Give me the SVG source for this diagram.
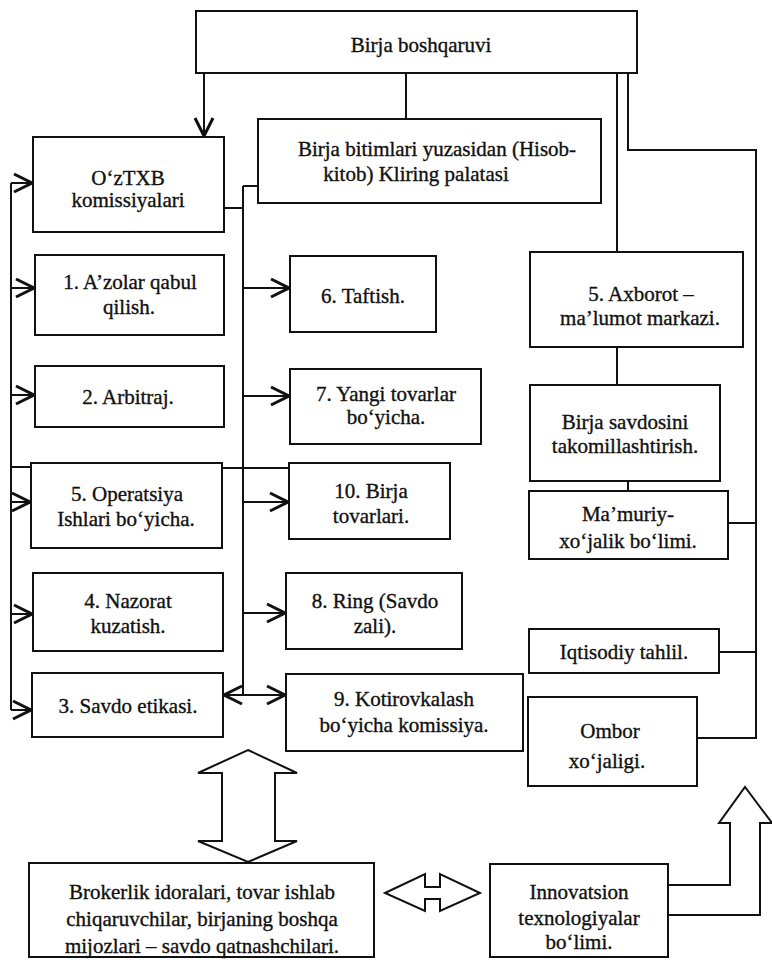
<svg xmlns="http://www.w3.org/2000/svg" width="772" height="968" viewBox="0 0 772 968">
<defs>
<style>
.box{fill:#fff;stroke:#111;stroke-width:2}
.ln{fill:none;stroke:#111;stroke-width:2}
.ar{fill:none;stroke:#111;stroke-width:2;marker-end:url(#ah)}
.big{fill:#fff;stroke:#111;stroke-width:2;stroke-linejoin:miter}
text{font-family:"Liberation Serif","Times New Roman",serif;font-size:21px;fill:#111;stroke:#111;stroke-width:0.35;text-anchor:middle}
</style>
<marker id="ah" markerUnits="userSpaceOnUse" viewBox="-21 -11 23 22" markerWidth="23" markerHeight="22" refX="0" refY="0" orient="auto">
<path d="M-18,-9 L0,0 L-18,9" fill="none" stroke="#111" stroke-width="3"/>
</marker>
</defs>
<rect width="772" height="968" fill="#fff"/>

<g id="connectors">
<line class="ar" x1="204" y1="73" x2="204" y2="136"/>
<line class="ln" x1="406" y1="73" x2="406" y2="119"/>
<line class="ln" x1="617" y1="73" x2="617" y2="252"/>
<polyline class="ln" points="628,73 628,150 756,150 756,738 697,738"/>
<line class="ln" x1="617" y1="347" x2="617" y2="385"/>
<line class="ln" x1="628" y1="481" x2="628" y2="491"/>
<line class="ln" x1="728" y1="523" x2="756" y2="523"/>
<line class="ln" x1="719" y1="652" x2="756" y2="652"/>
<line class="ln" x1="11" y1="183" x2="11" y2="710"/>
<line class="ar" x1="11" y1="183" x2="32" y2="183"/>
<line class="ar" x1="11" y1="288" x2="34" y2="288"/>
<line class="ar" x1="11" y1="395" x2="34" y2="395"/>
<line class="ln" x1="11" y1="467" x2="31" y2="467"/>
<line class="ar" x1="11" y1="502" x2="30" y2="502"/>
<line class="ar" x1="11" y1="614" x2="32" y2="614"/>
<line class="ar" x1="11" y1="710" x2="31" y2="710"/>
<line class="ln" x1="243" y1="186" x2="243" y2="695"/>
<line class="ln" x1="243" y1="186" x2="258" y2="186"/>
<line class="ln" x1="224" y1="208" x2="243" y2="208"/>
<line class="ln" x1="222" y1="468" x2="289" y2="468"/>
<line class="ar" x1="243" y1="288" x2="289" y2="288"/>
<line class="ar" x1="243" y1="396" x2="289" y2="396"/>
<line class="ar" x1="243" y1="502" x2="288" y2="502"/>
<line class="ar" x1="243" y1="613" x2="285" y2="613"/>
<line class="ar" x1="243" y1="695" x2="285" y2="695"/>
<line class="ar" x1="243" y1="695" x2="224" y2="695"/>
<polygon class="big" points="248,750 297,773 275,773 275,841 297,841 248,862 198,841 222,841 222,773 198,773"/>
<polygon class="big" points="385,893 425,874 425,887 440,887 440,874 480,893 440,911 440,899 425,899 425,911"/>
<polyline class="big" points="668,885 730,885 730,823 719,823 745,787 772,823 760,823 760,915 668,915"/>
</g>

<g id="n-boshqaruv"><rect class="box" x="196" y="11" width="441" height="62"/><text x="421" y="52">Birja boshqaruvi</text></g>
<g id="n-oztxb"><rect class="box" x="33" y="137" width="191" height="95"/><text x="128" y="185">O‘zTXB</text><text x="128" y="207">komissiyalari</text></g>
<g id="n-kliring"><rect class="box" x="258" y="119" width="343" height="84"/><text x="437" y="156">Birja bitimlari yuzasidan (Hisob-</text><text x="416" y="181">kitob) Kliring palatasi</text></g>
<g id="n-1"><rect class="box" x="35" y="255" width="189" height="80"/><text x="130" y="289">1. A’zolar qabul</text><text x="129" y="314">qilish.</text></g>
<g id="n-2"><rect class="box" x="35" y="366" width="189" height="61"/><text x="128" y="404">2. Arbitraj.</text></g>
<g id="n-5op"><rect class="box" x="31" y="463" width="191" height="85"/><text x="127" y="501">5. Operatsiya</text><text x="126" y="526">Ishlari bo‘yicha.</text></g>
<g id="n-4"><rect class="box" x="33" y="573" width="190" height="78"/><text x="128" y="608">4. Nazorat</text><text x="128" y="633">kuzatish.</text></g>
<g id="n-3"><rect class="box" x="32" y="673" width="191" height="64"/><text x="128" y="713">3. Savdo etikasi.</text></g>
<g id="n-6"><rect class="box" x="290" y="256" width="146" height="76"/><text x="363" y="303">6. Taftish.</text></g>
<g id="n-7"><rect class="box" x="290" y="369" width="191" height="75"/><text x="386" y="401">7. Yangi tovarlar</text><text x="386" y="424">bo‘yicha.</text></g>
<g id="n-10"><rect class="box" x="289" y="463" width="161" height="76"/><text x="371" y="498">10. Birja</text><text x="371" y="523">tovarlari.</text></g>
<g id="n-8"><rect class="box" x="286" y="573" width="176" height="76"/><text x="375" y="608">8. Ring (Savdo</text><text x="375" y="633">zali).</text></g>
<g id="n-9"><rect class="box" x="286" y="674" width="237" height="77"/><text x="404" y="706">9. Kotirovkalash</text><text x="404" y="732">bo‘yicha komissiya.</text></g>
<g id="n-axborot"><rect class="box" x="530" y="252" width="213" height="95"/><text x="641" y="301">5. Axborot –</text><text x="640" y="325">ma’lumot markazi.</text></g>
<g id="n-savdo"><rect class="box" x="530" y="385" width="190" height="96"/><text x="625" y="429">Birja savdosini</text><text x="625" y="453">takomillashtirish.</text></g>
<g id="n-mamuriy"><rect class="box" x="529" y="491" width="199" height="68"/><text x="628" y="521">Ma’muriy-</text><text x="628" y="548">xo‘jalik bo‘limi.</text></g>
<g id="n-iqtisod"><rect class="box" x="529" y="629" width="190" height="44"/><text x="624" y="659">Iqtisodiy tahlil.</text></g>
<g id="n-ombor"><rect class="box" x="528" y="697" width="169" height="89"/><text x="610" y="738">Ombor</text><text x="607" y="768">xo‘jaligi.</text></g>
<g id="n-broker"><rect class="box" x="29" y="863" width="345" height="94"/><text x="202" y="899">Brokerlik idoralari, tovar ishlab</text><text x="202" y="926">chiqaruvchilar, birjaning boshqa</text><text x="202" y="953">mijozlari – savdo qatnashchilari.</text></g>
<g id="n-innov"><rect class="box" x="490" y="864" width="178" height="93"/><text x="579" y="899">Innovatsion</text><text x="579" y="925">texnologiyalar</text><text x="579" y="949">bo‘limi.</text></g>
</svg>
